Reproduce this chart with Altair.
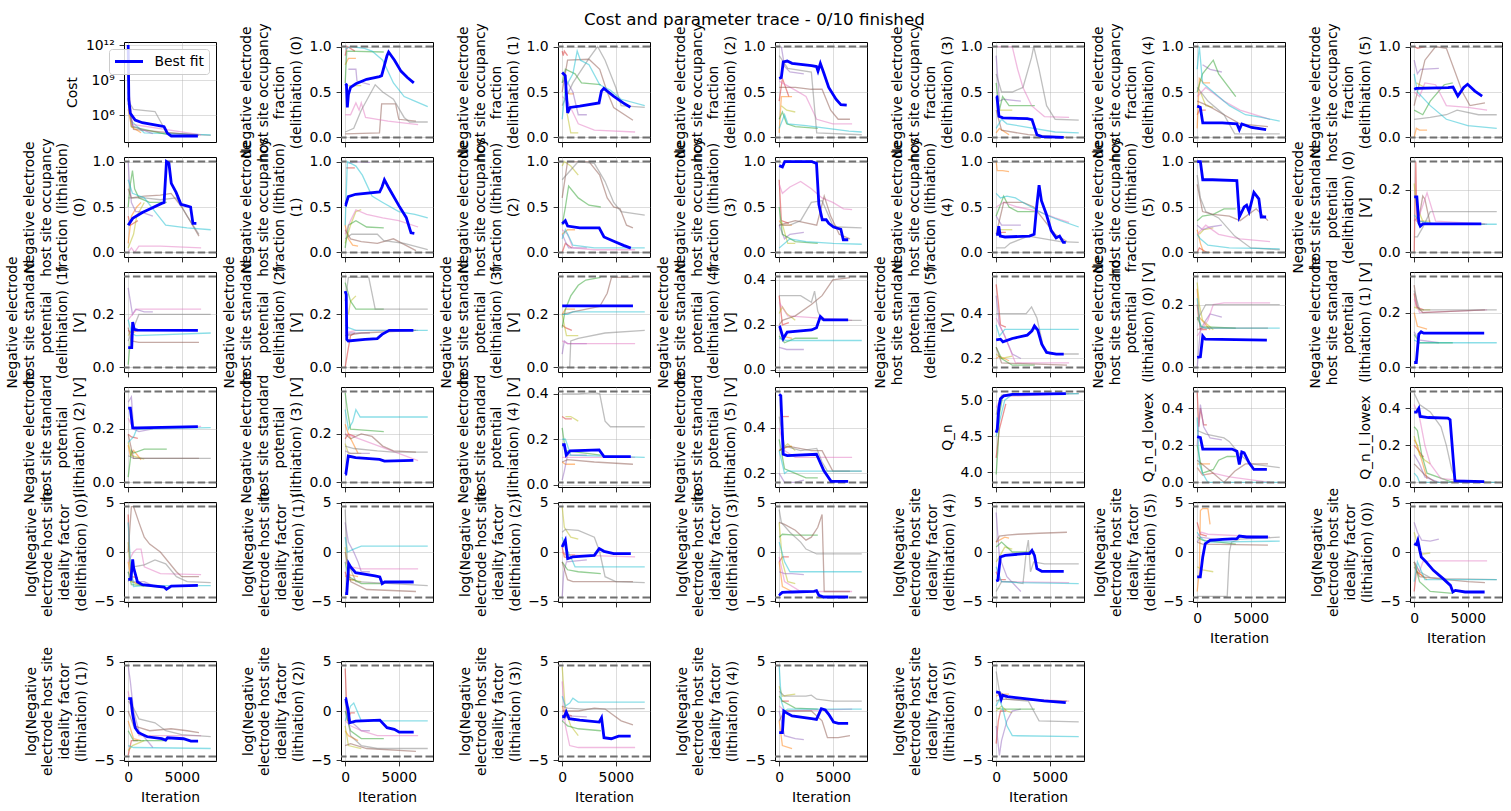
import altair as alt
import pandas as pd

TITLE = "Cost and parameter trace - 0/10 finished"
X_DOMAIN = [-390, 8190]
X_TICKS = [0, 5000]
TRACE_COLORS = {"blue": "#1f77b4", "orange": "#ff7f0e", "green": "#2ca02c", "red": "#d62728",
                "purple": "#9467bd", "brown": "#8c564b", "pink": "#e377c2", "gray": "#7f7f7f",
                "olive": "#bcbd22", "cyan": "#17becf"}

# ---------------- row 1 ----------------
cost_best = [[0, 1e12], [60, 2e7], [200, 1.4e6], [650, 3.7e5], [1320, 2.2e5], [3120, 1.15e5], [3345, 1e5], [3660, 2.7e4], [4020, 1.6e4], [6500, 1.6e4]]
cost_traces = {
    "gray": [[0, 3e9], [150, 1e7], [500, 3e6], [2500, 2e6], [3600, 3e4], [7700, 1.8e4]],
    "cyan": [[0, 1e8], [300, 3e5], [1500, 3e4], [7700, 2e4]],
    "green": [[0, 3e7], [300, 1e5], [3600, 2.2e4]],
    "pink": [[0, 3e8], [400, 1.6e5], [6800, 2e4]],
    "brown": [[0, 1e7], [500, 6e4], [6600, 1.8e4]],
    "orange": [[0, 3e6], [300, 1e5], [1200, 3e4]],
    "purple": [[0, 1e7], [400, 1.2e5], [2300, 2.5e4]],
}
dlo0_best = [[0, .59], [120, .58], [200, .33], [300, .47], [500, .55], [1000, .59], [2000, .64], [3200, .67], [3400, .68], [3900, .9], [4050, .94], [4600, .85], [5200, .73], [5800, .66], [6400, .6]]
dlo0_traces = {
    "red": [[0, .9], [200, 1.0], [900, .95]],
    "orange": [[0, .8], [300, .87], [1000, .87]],
    "green": [[0, .6], [150, .95], [3600, .94]],
    "purple": [[300, .75], [1000, .75], [1100, .62], [2300, .58]],
    "olive": [[300, .57], [1500, .57]],
    "brown": [[0, .04], [3200, .05], [3400, .37], [4700, .37], [5000, .2], [6600, .18]],
    "pink": [[0, .25], [500, .25], [1000, .38], [1300, .3], [1500, .38], [1900, .22], [3000, .2], [4000, .18], [6800, .14]],
    "gray": [[0, .06], [800, .1], [1500, .3], [2800, .58], [3500, .5], [4500, .42], [5500, .22], [6000, .17], [7700, .17]],
    "cyan": [[0, .97], [500, 1.0], [1800, .98], [2500, .95], [3500, .85], [4500, .6], [5500, .45], [6500, .4], [7700, .34]],
}
dlo1_best = [[0, .715], [285, .68], [510, .27], [735, .33], [1635, .345], [3435, .38], [3660, .51], [3885, .54], [4785, .455], [5685, .38], [6360, .333]]
dlo1_traces = {
    "red": [[0, .95], [100, .9], [200, .95], [500, .9]],
    "orange": [[200, .5], [700, .48], [1100, .48]],
    "olive": [[400, .3], [800, .05], [1500, .05]],
    "purple": [[0, .6], [300, .65], [1000, .5], [1500, .25], [2300, .25]],
    "green": [[0, .6], [300, .75], [1200, .7], [1800, .6], [3600, .58]],
    "pink": [[0, .45], [500, .4], [1500, .15], [3000, .08], [6800, .06]],
    "brown": [[0, .5], [500, .85], [2500, .86], [3500, .75], [4200, .5], [4800, .33], [6600, .19]],
    "gray": [[0, .35], [1000, .6], [2500, .87], [3300, 1.0], [4000, .85], [5000, .55], [5500, .35], [7700, .33]],
    "cyan": [[0, .2], [300, .55], [1000, .7], [1400, .95], [1700, .85], [2500, .8], [3500, .58], [4500, .52], [5500, .42], [7700, .35]],
}
dlo2_best = [[0, .65], [200, .66], [380, .83], [750, .84], [1200, .815], [3020, .79], [3480, .78], [3620, .73], [3840, .815], [4160, .71], [4620, .55], [5300, .42], [5750, .36], [6300, .355]]
dlo2_traces = {
    "red": [[0, .4], [300, .65], [900, .45]],
    "orange": [[0, .05], [200, .45], [500, .45], [1200, .45]],
    "olive": [[200, .35], [700, .3], [1500, .28]],
    "purple": [[200, 1.0], [500, .78], [1000, .72], [2300, .7]],
    "green": [[0, .2], [300, .28], [700, .15], [1500, .12], [3600, .1]],
    "pink": [[0, .62], [1500, .52], [2500, .45], [3500, .2], [5000, .15], [6800, .15]],
    "brown": [[0, .55], [1500, .55], [3000, .53], [4000, .53], [4800, .3], [5500, .2], [6600, .2]],
    "gray": [[0, .9], [800, .76], [3000, .72], [3500, .05], [7700, .03]],
    "cyan": [[0, .1], [500, .25], [800, .15], [2500, .13], [4500, .1], [6500, .07], [7700, .06]],
}
dlo3_best = [[0, .455], [70, .45], [260, .233], [620, .215], [2900, .207], [3340, .196], [3800, .03], [4260, .01], [6300, .0]]
dlo3_traces = {
    "orange": [[0, .05], [300, .1], [1200, .03]],
    "olive": [[300, .3], [1500, .3]],
    "purple": [[0, .9], [300, .4], [700, .42], [2300, .4]],
    "green": [[0, .6], [300, .3], [600, .45], [1200, .35], [3600, .35]],
    "brown": [[0, .3], [500, .08], [3000, .03], [6600, .0]],
    "pink": [[100, 1.0], [1500, 1.0], [2000, .75], [2500, .55], [3300, .35], [4500, .23], [6800, .22]],
    "gray": [[0, .7], [500, .5], [1500, .5], [2500, .55], [3300, .88], [3500, 1.0], [4000, .75], [4700, .35], [5500, .2], [7700, .19]],
    "cyan": [[0, .1], [500, .2], [1000, .15], [3500, .1], [5500, .06], [7700, .05]],
}
dlo4_best = [[0, .345], [290, .333], [520, .16], [2340, .16], [3700, .15], [3930, .085], [4160, .148], [5070, .11], [6430, .085]]
dlo4_traces = {
    "red": [[0, .25], [200, .3], [800, .3]],
    "orange": [[0, .1], [200, .65], [600, .6], [1200, .6]],
    "olive": [[300, .5], [800, .35], [1500, .33]],
    "purple": [[500, .8], [1200, .75], [2300, .72]],
    "green": [[0, .5], [500, .7], [1500, .85], [2000, .7], [3600, .45]],
    "brown": [[0, .4], [1000, .35], [2500, .25], [4000, .15], [6600, .12]],
    "pink": [[0, .45], [800, .55], [2500, .4], [4000, .3], [6800, .2]],
    "gray": [[0, .55], [1000, .4], [2500, .25], [3500, .04], [7700, .04]],
    "cyan": [[0, .75], [200, 1.0], [500, .6], [1500, .5], [3000, .35], [4500, .25], [6000, .22], [7700, .18]],
}
dlo5_best = [[0, .53], [200, .54], [3160, .548], [3620, .555], [4070, .455], [4620, .55], [4980, .585], [5660, .51], [6340, .455]]
dlo5_traces = {
    "red": [[0, 1.0], [300, .98], [1000, 1.0]],
    "orange": [[0, .0], [200, .1], [500, .08], [1200, .08]],
    "olive": [[200, .6], [1000, .55], [1500, .55]],
    "purple": [[0, .85], [300, .7], [600, .75], [2300, .76]],
    "green": [[0, .3], [800, .25], [1500, .4], [2800, .58], [3600, .6]],
    "brown": [[0, .35], [1000, .85], [2000, 1.0], [3000, .98], [4500, .5], [5200, .35], [6600, .38]],
    "pink": [[0, .5], [500, .45], [1000, .6], [2000, .58], [3000, .35], [5000, .33], [6800, .3]],
    "gray": [[0, .2], [1500, .22], [3000, .25], [4000, .3], [6000, .25], [7700, .25]],
    "cyan": [[0, .7], [300, .5], [1500, .35], [3000, .2], [5000, .13], [7700, .1]],
}

# ---------------- row 2 ----------------
llo0_best = [[0, .3], [420, .375], [1320, .44], [2220, .49], [3120, .54], [3350, .55], [3570, 1.0], [3800, .98], [4020, .76], [4470, .66], [4920, .53], [5370, .515], [5820, .5], [6040, .32], [6360, .32]]
llo0_traces = {
    "red": [[0, .4], [200, .3], [900, .35]],
    "orange": [[0, .1], [300, .4], [800, .5], [1200, .55]],
    "olive": [[0, .05], [500, .2], [800, .4], [1500, .55]],
    "purple": [[0, 1.0], [100, .8], [300, .55], [700, .45], [1100, .45], [2300, .4]],
    "green": [[0, .5], [200, .75], [400, .9], [600, .7], [1000, .6], [2000, .55], [3600, .55]],
    "pink": [[0, .0], [300, .05], [600, .0], [1000, .07], [3000, .07], [6800, .05]],
    "brown": [[0, .7], [300, .6], [1500, .62], [3000, .63], [4000, .65], [5000, .5], [6000, .3], [6600, .18]],
    "gray": [[0, .6], [1500, .6], [3000, .58], [4500, .6], [5500, .4], [6600, .2]],
    "cyan": [[0, .8], [400, .65], [1500, .6], [2500, .45], [3500, .3], [5500, .27], [7700, .25]],
}
llo1_best = [[0, .53], [60, .525], [290, .615], [970, .64], [3210, .665], [3435, .72], [3660, .8], [4110, .7], [5010, .515], [5690, .385], [6140, .216], [6450, .21]]
llo1_traces = {
    "red": [[100, .93], [300, .93], [900, .93]],
    "orange": [[0, .3], [300, .15], [700, .08], [1200, .07]],
    "olive": [[0, .1], [500, .3], [1000, .45], [1500, .47]],
    "purple": [[300, .98], [1000, 1.0], [2300, .99]],
    "green": [[0, .05], [300, .3], [1000, .35], [2000, .28], [3600, .27]],
    "pink": [[0, .2], [500, .35], [1000, .47], [2000, .42], [3500, .38], [5000, .35], [6800, .28]],
    "brown": [[0, .25], [500, .15], [1500, .12], [3000, .1], [4500, .15], [6600, .02]],
    "gray": [[0, .15], [600, .2], [3000, .2], [3600, .13], [5500, .1], [7700, .03]],
    "cyan": [[0, .3], [200, 1.0], [1000, .95], [1600, .85], [2500, .62], [3500, .55], [5000, .45], [6500, .42], [7700, .38]],
}
llo2_best = [[0, .317], [290, .35], [510, .29], [1640, .27], [3450, .27], [3900, .17], [4810, .123], [5720, .078], [6400, .048]]
llo2_traces = {
    "red": [[0, .0], [300, .1], [900, .05]],
    "orange": [[0, .2], [500, .25], [1200, .25]],
    "olive": [[0, .95], [200, 1.0], [800, .95], [1500, .85]],
    "purple": [[0, .2], [300, .12], [600, .05], [2300, .05]],
    "green": [[0, .3], [300, .5], [600, .73], [1500, .6], [2500, .52], [3600, .5]],
    "pink": [[0, .25], [500, .2], [1000, .05], [3000, .03], [6800, .03]],
    "brown": [[0, .6], [500, 1.0], [2500, 1.0], [3500, .85], [4200, .6], [4800, .5], [5400, .48], [6000, .3], [6600, .27]],
    "gray": [[0, .8], [1500, 1.0], [3000, .98], [4000, .78], [4800, .55], [5500, .45], [7700, .41]],
    "cyan": [[0, .15], [300, .25], [600, .18], [1000, .08], [3000, .05], [7700, .05]],
}
llo3_best = [[0, .955], [300, .94], [520, 1.0], [3020, 1.0], [3480, .98], [3700, .53], [4020, .36], [4380, .36], [4620, .32], [5070, .28], [5750, .255], [5980, .14], [6440, .14]]
llo3_traces = {
    "red": [[0, .8], [200, .35], [900, .32]],
    "orange": [[0, .35], [300, .3], [1200, .3]],
    "olive": [[200, .35], [800, .1], [1500, .1]],
    "purple": [[0, .3], [500, .15], [1000, .2], [2300, .22]],
    "green": [[0, .5], [300, .2], [1500, .12], [3600, .1]],
    "pink": [[0, .75], [300, .65], [1000, .72], [2000, .78], [3000, .7], [4000, .6], [5000, .55], [6000, .48], [6800, .47]],
    "brown": [[0, .3], [1500, .35], [3500, .3], [4200, .62], [4800, .4], [5600, .2], [6600, .15]],
    "gray": [[0, .3], [1000, .3], [2000, .35], [3000, .55], [4000, .57], [5000, .3], [5500, .28], [7700, .27]],
    "cyan": [[0, .05], [1000, .15], [2500, .12], [5000, .1], [7700, .09]],
}
llo4_best = [[0, .2], [150, .2], [240, .29], [380, .18], [830, .17], [3100, .18], [3540, .2], [3770, .495], [4000, .74], [4220, .57], [4680, .42], [5130, .24], [5590, .16], [5910, .18], [6260, .11], [6490, .11]]
llo4_traces = {
    "red": [[0, .2], [300, .22], [900, .22]],
    "orange": [[0, 1.0], [100, .9], [600, .9], [1200, .89]],
    "olive": [[200, .25], [800, .25], [1500, .25]],
    "purple": [[0, .4], [500, .3], [2300, .3]],
    "green": [[0, .4], [700, .62], [1200, .5], [2000, .45], [3600, .45]],
    "pink": [[0, .5], [700, .55], [2000, .5], [4000, .45], [5500, .38], [6800, .33]],
    "brown": [[0, .2], [700, .55], [2500, .55], [3500, .5], [4500, .35], [5500, .2], [6600, .12]],
    "gray": [[0, .05], [800, .05], [1300, .1], [3000, .18], [4500, .15], [6000, .12], [7700, .11]],
    "cyan": [[0, .65], [400, .6], [1000, .62], [1800, .6], [2500, .55], [4500, .42], [6000, .35], [7700, .28]],
}
llo5_best = [[0, 1.0], [300, 1.0], [520, .8], [1430, .8], [3700, .79], [3930, .39], [4380, .5], [4610, .52], [4840, .45], [5290, .66], [5750, .59], [5970, .39], [6430, .39]]
llo5_traces = {
    "red": [[0, .0], [200, .05], [900, .0]],
    "orange": [[0, .25], [300, .1], [600, .0], [1200, .0]],
    "olive": [[200, .2], [600, .25], [1500, .27]],
    "purple": [[0, .3], [500, .25], [1200, .28], [2300, .3]],
    "green": [[0, .35], [500, .4], [1500, .42], [2500, .48], [3600, .48]],
    "pink": [[0, .2], [800, .3], [2000, .2], [4000, .15], [6800, .12]],
    "brown": [[0, .75], [500, .45], [1500, .42], [3000, .4], [4000, .35], [5500, .48], [6600, .35]],
    "gray": [[0, .85], [300, .6], [800, .45], [2000, .38], [3500, .18], [5000, .05], [7700, .03]],
    "cyan": [[0, .2], [300, .15], [1000, .08], [3000, .05], [7700, .04]],
}
dsp0_best = [[0, .177], [250, .177], [430, .095], [570, .084], [800, .091], [6260, .091]]
dsp0_traces = {
    "red": [[0, .0], [150, .29], [250, .1], [400, .1], [900, .1]],
    "olive": [[0, .22], [200, .15], [800, .1], [1500, .1]],
    "brown": [[0, .1], [500, .12], [800, .18], [1000, .17], [1500, .09], [6600, .09]],
    "pink": [[0, .1], [500, .12], [1200, .19], [2000, .1], [6800, .09]],
    "gray": [[0, .05], [300, .05], [800, .08], [1500, .13], [7700, .13]],
    "cyan": [[0, .12], [500, .1], [2000, .09], [7700, .09]],
}

# ---------------- row 3 ----------------
dsp1_best = [[0, .075], [330, .075], [420, .171], [560, .144], [870, .141], [6500, .14]]
dsp1_traces = {
    "red": [[0, .14], [300, .13], [900, .14]],
    "olive": [[0, .12], [300, .14], [1500, .14]],
    "purple": [[0, .3], [200, .25], [400, .2], [700, .22], [1500, .21], [2300, .21]],
    "green": [[0, .01], [200, .1], [500, .14], [3600, .14]],
    "pink": [[0, .18], [400, .2], [800, .22], [6800, .22]],
    "brown": [[0, .15], [300, .1], [1000, .095], [6600, .095]],
    "gray": [[0, .1], [1000, .2], [7700, .2]],
    "cyan": [[0, .18], [300, .13], [700, .12], [7700, .13]],
}
dsp2_best = [[0, .288], [100, .275], [150, .106], [290, .1], [1860, .106], [2990, .109], [3440, .125], [4110, .14], [6360, .14]]
dsp2_traces = {
    "red": [[0, .0], [200, .05], [500, .12], [900, .13]],
    "olive": [[300, .2], [500, .25], [1000, .27]],
    "purple": [[0, .12], [500, .13], [2300, .13]],
    "green": [[0, .32], [500, .25], [1000, .22], [2000, .22], [3600, .22]],
    "pink": [[0, .13], [1000, .14], [6800, .14]],
    "brown": [[0, .12], [1500, .13], [6600, .14]],
    "gray": [[0, .25], [300, .34], [1500, .34], [2200, .34], [2800, .22], [7700, .22]],
    "cyan": [[0, .16], [300, .15], [1000, .14], [7700, .14]],
}
dsp3_best = [[0, .232], [6600, .232]]
dsp3_traces = {
    "red": [[0, .16], [300, .15], [900, .14]],
    "orange": [[0, .2], [300, .22], [1200, .22]],
    "olive": [[0, .2], [400, .12], [1500, .12]],
    "purple": [[0, .05], [200, .1], [500, .09], [2300, .09]],
    "green": [[0, .15], [300, .22], [800, .27], [1500, .31], [2200, .33], [3600, .34]],
    "pink": [[0, .1], [500, .09], [6800, .09]],
    "brown": [[0, .2], [1000, .21], [3500, .23], [4200, .28], [4600, .34], [6600, .34]],
    "gray": [[0, .0], [700, .0], [800, .1], [1500, .11], [4000, .13], [7700, .14]],
    "cyan": [[0, .2], [500, .2], [1000, .21], [7700, .21]],
}
dsp4_best = [[0, .195], [60, .192], [380, .139], [750, .168], [3020, .177], [3480, .187], [3840, .237], [4160, .222], [6430, .222]]
dsp4_traces = {
    "red": [[0, .33], [300, .2], [900, .21]],
    "orange": [[0, .18], [300, .15], [1200, .14]],
    "olive": [[0, .25], [300, .28], [700, .25], [1500, .22]],
    "purple": [[0, .1], [700, .09], [2300, .09]],
    "green": [[0, .15], [500, .12], [1500, .14], [3600, .14]],
    "pink": [[0, .3], [800, .24], [6800, .22]],
    "brown": [[0, .2], [300, .22], [1500, .24], [3000, .29], [4000, .33], [5000, .4], [6600, .41]],
    "gray": [[0, .33], [2000, .33], [3000, .3], [3300, .35], [3600, .26], [4000, .22], [7700, .22]],
    "cyan": [[0, .14], [700, .13], [7700, .13]],
}
dsp5_best = [[0, .283], [400, .286], [630, .274], [1500, .289], [2900, .304], [3340, .323], [3570, .345], [3880, .326], [4250, .264], [4700, .227], [5600, .219], [6300, .219]]
dsp5_traces = {
    "red": [[0, .53], [200, .45], [400, .35], [900, .34]],
    "orange": [[0, .2], [300, .21], [1200, .19]],
    "olive": [[0, .22], [500, .2], [1500, .21]],
    "purple": [[0, .48], [300, .35], [800, .3], [1500, .22], [2300, .2]],
    "green": [[0, .25], [500, .2], [1500, .17], [3600, .17]],
    "pink": [[0, .38], [800, .3], [1800, .18], [3000, .18], [6800, .18]],
    "brown": [[0, .25], [500, .18], [6600, .17]],
    "gray": [[0, .4], [1500, .4], [2800, .4], [3300, .43], [3800, .38], [4400, .25], [5000, .22], [7700, .22]],
    "cyan": [[0, .35], [300, .3], [800, .33], [7700, .33]],
}
lsp0_best = [[0, .032], [300, .034], [520, .1], [750, .09], [6500, .087]]
lsp0_traces = {
    "red": [[0, .2], [300, .12], [900, .12]],
    "orange": [[0, .25], [200, .16], [1200, .12]],
    "olive": [[0, .27], [200, .2], [500, .15], [1500, .12]],
    "purple": [[0, .0], [300, .12], [800, .15], [1200, .17], [2300, .16]],
    "green": [[0, .16], [400, .13], [3600, .125]],
    "pink": [[0, .1], [1000, .15], [1500, .2], [2500, .205], [6800, .205]],
    "brown": [[0, .12], [500, .125], [6600, .125]],
    "gray": [[0, .15], [800, .2], [7700, .2]],
    "cyan": [[0, .22], [300, .13], [800, .125], [7700, .125]],
}
lsp1_best = [[0, .018], [200, .018], [430, .121], [650, .13], [880, .125], [6530, .125]]
lsp1_traces = {
    "red": [[0, .27], [200, .22], [900, .21]],
    "orange": [[0, .2], [300, .15], [1200, .14]],
    "olive": [[0, .22], [600, .21], [1500, .21]],
    "purple": [[0, .13], [400, .1], [2300, .09]],
    "green": [[0, .12], [500, .09], [3600, .09]],
    "pink": [[0, .25], [500, .2], [6800, .21]],
    "brown": [[0, .3], [300, .22], [800, .2], [6600, .21]],
    "gray": [[0, .28], [500, .21], [7700, .21]],
    "cyan": [[0, .1], [500, .09], [7700, .09]],
}

# ---------------- row 4 ----------------
lsp2_best = [[0, .278], [200, .278], [420, .204], [870, .204], [3120, .206], [6500, .209]]
lsp2_traces = {
    "red": [[0, .18], [300, .17], [900, .165]],
    "orange": [[0, .14], [200, .1], [500, .12], [1200, .085]],
    "olive": [[0, .15], [300, .1], [1500, .087]],
    "purple": [[0, .3], [300, .32], [500, .2], [1000, .19], [2300, .2]],
    "green": [[0, .02], [300, .12], [500, .11], [1500, .125], [3600, .125]],
    "pink": [[0, .24], [500, .2], [6800, .21]],
    "brown": [[0, .18], [500, .09], [6600, .09]],
    "gray": [[0, .1], [500, .09], [7700, .09]],
    "cyan": [[0, .15], [500, .17], [800, .2], [7700, .205]],
}
lsp3_best = [[0, .034], [60, .034], [290, .109], [970, .102], [3210, .095], [3660, .088], [6360, .091]]
lsp3_traces = {
    "red": [[0, .18], [300, .2], [900, .19]],
    "orange": [[0, .24], [300, .2], [1200, .12]],
    "olive": [[0, .16], [300, .12], [1500, .12]],
    "purple": [[0, .13], [500, .12], [2300, .12]],
    "green": [[0, .37], [200, .3], [500, .22], [3600, .21]],
    "pink": [[0, .2], [700, .19], [6800, .09]],
    "brown": [[0, .2], [500, .18], [1500, .2], [2500, .19], [3500, .15], [4500, .13], [6600, .125]],
    "gray": [[0, .15], [800, .14], [3000, .13], [4500, .125], [7700, .125]],
    "cyan": [[0, .3], [300, .22], [700, .25], [1000, .3], [1400, .27], [7700, .27]],
}
lsp4_best = [[0, .176], [200, .176], [380, .131], [740, .149], [3450, .153], [3900, .124], [6400, .124]]
lsp4_traces = {
    "red": [[0, .3], [300, .29], [900, .29]],
    "orange": [[0, .1], [300, .09], [1200, .09]],
    "olive": [[300, .3], [800, .3], [1500, .28]],
    "purple": [[0, .02], [200, .06], [500, .13], [2300, .13]],
    "green": [[0, .25], [300, .15], [3600, .13]],
    "pink": [[0, .12], [500, .12], [6800, .12]],
    "brown": [[0, .1], [500, .11], [3000, .1], [6600, .09]],
    "gray": [[0, .4], [1500, .4], [3000, .405], [3500, .4], [4000, .28], [4500, .255], [7700, .255]],
    "cyan": [[0, .2], [300, .2], [800, .13], [7700, .12]],
}
lsp5_best = [[0, .548], [150, .542], [380, .284], [750, .278], [3480, .284], [4160, .212], [4840, .165], [6430, .165]]
lsp5_traces = {
    "red": [[300, .45], [900, .45]],
    "orange": [[0, .3], [300, .31], [1200, .32]],
    "olive": [[0, .3], [800, .33], [1500, .3]],
    "purple": [[0, .2], [500, .16], [1500, .16], [2300, .17]],
    "green": [[0, .35], [500, .22], [1500, .2], [2500, .18], [3600, .18]],
    "pink": [[0, .4], [500, .3], [1500, .27], [3000, .27], [6800, .27]],
    "brown": [[0, .3], [800, .32], [3000, .3], [4000, .3], [5000, .21], [6600, .21]],
    "gray": [[0, .45], [500, .32], [2000, .3], [3500, .31], [4000, .25], [4500, .21], [7700, .21]],
    "cyan": [[0, .3], [500, .2], [800, .21], [7700, .21]],
}
qn_best = [[0, 4.55], [100, 4.6], [250, 4.9], [400, 5.02], [700, 5.06], [1500, 5.08], [6500, 5.09]]
qn_traces = {
    "red": [[0, 4.2], [300, 4.6], [900, 4.95]],
    "green": [[0, 3.97], [150, 4.3], [300, 4.8], [600, 5.05], [1500, 5.08], [3600, 5.09]],
    "pink": [[0, 4.9], [500, 5.05], [6800, 5.09]],
    "gray": [[0, 4.8], [500, 5.07], [7700, 5.09]],
    "cyan": [[0, 4.5], [300, 4.7], [800, 5.0], [1500, 5.08], [7700, 5.09]],
}
qnd_best = [[0, .247], [300, .242], [520, .18], [3250, .18], [3700, .168], [3930, .097], [4160, .164], [4380, .159], [4840, .106], [5290, .07], [6500, .07]]
qnd_traces = {
    "red": [[0, .49], [150, .3], [300, .4], [600, .31], [900, .31]],
    "orange": [[0, .1], [300, .1], [1200, .1]],
    "olive": [[0, .08], [500, .04], [1500, .05]],
    "purple": [[0, .2], [300, .42], [600, .3], [1200, .24], [2300, .23]],
    "green": [[0, .2], [500, .05], [1500, .07], [2000, .12], [2800, .14], [3600, .14]],
    "pink": [[0, .08], [500, .04], [1500, .05], [3000, .03], [6800, .0]],
    "brown": [[0, .12], [1500, .05], [2500, .0], [3500, .06], [4500, .1], [6600, .1]],
    "gray": [[0, .28], [800, .26], [2500, .24], [3000, .22], [4000, .15], [5000, .1], [7700, .08]],
    "cyan": [[0, .35], [200, .1], [500, .05], [1000, .0], [7700, .0]],
}
qnl_best = [[0, .379], [200, .379], [430, .4], [560, .356], [1330, .35], [3140, .347], [3350, .338], [3800, .009], [6530, .005]]
qnl_traces = {
    "red": [[0, .2], [300, .18], [800, .14], [900, .14]],
    "orange": [[0, .23], [300, .2], [800, .1], [1200, .02]],
    "olive": [[0, .25], [500, .15], [1000, .12], [1500, .1]],
    "purple": [[0, .15], [500, .1], [1000, .03], [2300, .0]],
    "green": [[0, .3], [300, .28], [700, .15], [1200, .05], [3600, .0]],
    "pink": [[0, .42], [500, .35], [1000, .2], [1500, .1], [2500, .02], [6800, .0]],
    "brown": [[0, .1], [1000, .04], [2000, .0], [6600, .0]],
    "gray": [[0, .48], [500, .42], [1500, .38], [2500, .3], [3000, .2], [3500, .07], [4000, .0], [7700, .0]],
    "cyan": [[0, .05], [300, .03], [500, .0], [7700, .0]],
}

# ---------------- row 5 ----------------
dif0_best = [[0, -2.77], [250, -2.77], [420, -.74], [510, -1.62], [870, -3.04], [1320, -3.31], [3340, -3.55], [3570, -3.78], [4020, -3.45], [6500, -3.38]]
dif0_traces = {
    "red": [[0, 3.8], [150, -1], [300, -2.5], [900, -2.6]],
    "orange": [[0, -1], [300, -3], [1200, -3.3]],
    "olive": [[0, 1], [300, -3], [1500, -3.5]],
    "purple": [[0, -2], [500, -3], [1500, -3], [2300, -3.4]],
    "green": [[0, -2], [300, -3.3], [3600, -3.6]],
    "pink": [[0, -1], [500, 0], [800, .3], [1200, .3], [1500, -1.5], [3000, -2.2], [6800, -2.3]],
    "brown": [[0, 0], [300, 4.6], [500, 4.6], [1000, 3], [1500, 1.5], [2000, .8], [3000, 0], [4500, -2], [5000, -2.5], [6600, -2.5]],
    "gray": [[0, -3], [500, -1.5], [1500, -1.3], [2500, -.8], [3500, -1.2], [4500, -2.5], [5500, -3], [7700, -3.1]],
    "cyan": [[0, 3], [200, -1], [500, -3.5], [1500, -3.4], [7700, -3.4]],
}
dif1_best = [[0, -4.22], [150, -4.22], [330, -1.18], [510, -1.52], [970, -2.1], [2780, -2.43], [3230, -2.53], [3450, -3.2], [3680, -3.04], [6390, -3.04]]
dif1_traces = {
    "red": [[0, -2], [200, -2.8], [900, -2.8]],
    "orange": [[0, -2.5], [300, -2.3], [1200, -2.5]],
    "olive": [[0, .5], [400, -2.8], [1500, -3]],
    "purple": [[0, 3], [300, 1], [800, 0], [1200, -1], [1500, -2], [2300, -2]],
    "green": [[0, -1], [300, -2.5], [1500, -3.2], [3600, -3.2]],
    "pink": [[0, -1], [500, -1.5], [1500, -1.7], [6800, -1.7]],
    "brown": [[0, 0], [500, -3], [2000, -3.8], [6600, -4]],
    "gray": [[0, 4.3], [200, -1], [1000, -3], [7700, -3.4]],
    "cyan": [[0, 1.5], [200, 0], [800, .3], [1500, .6], [7700, .6]],
}
dif2_best = [[0, .5], [60, .68], [290, 1.18], [510, -.68], [970, -.5], [3000, -.34], [3450, .34], [3900, .07], [4810, -.17], [6400, -.17]]
dif2_traces = {
    "red": [[0, .5], [200, -.5], [900, -.7]],
    "orange": [[0, 0], [300, -.3], [1200, -.3]],
    "olive": [[0, 4.6], [200, 2.5], [800, 1.5], [1500, 1.3]],
    "purple": [[0, -4.6], [150, -2], [400, -1], [2300, -.8]],
    "green": [[0, -1], [500, -1.8], [1500, -2], [3600, -2.2]],
    "pink": [[0, 0], [500, -.3], [6800, -.5]],
    "brown": [[0, -1], [500, -2.8], [1000, -3], [6600, -3]],
    "gray": [[0, 2], [300, 2.3], [1500, 2.2], [3000, 1.5], [3500, 0], [4000, -2.5], [5000, -3], [7700, -3.1]],
    "cyan": [[0, 1.5], [300, .5], [800, -.5], [1200, -1.5], [7700, -1.5]],
}
dif3_best = [[0, -4.22], [60, -4.3], [290, -4.1], [1200, -4.05], [3250, -3.99], [3480, -3.92], [3700, -4.39], [4160, -4.56], [6430, -4.56]]
dif3_traces = {
    "red": [[0, -1], [300, -.5], [900, -.5]],
    "orange": [[0, -1], [300, -3.5], [1200, -4]],
    "olive": [[0, 3], [300, -1], [800, -3], [1500, -3.2]],
    "purple": [[0, -2], [500, -2.2], [1200, -2.2], [2300, -2.3]],
    "green": [[0, 1.5], [300, 1.8], [1500, 1.7], [3600, 1.7]],
    "pink": [[0, -.5], [500, -3], [2000, -4], [6800, -4]],
    "brown": [[0, 3], [500, 2.8], [1500, 2.2], [2500, 1.2], [3000, 1.5], [3600, 2.5], [4000, 3.8], [4100, 0], [4200, -4], [6600, -4]],
    "gray": [[0, 4.3], [200, 3], [1000, 2], [2000, 1], [2500, .3], [3500, -.2], [4500, -.2], [7700, -.2]],
    "cyan": [[0, 1], [500, -1], [1000, -2], [7700, -2]],
}
dif4_best = [[0, -2.94], [160, -2.87], [390, -.5], [840, -.34], [2660, -.17], [3110, -.17], [3340, .17], [3570, -.34], [3800, -1.69], [4250, -1.96], [6300, -1.96]]
dif4_traces = {
    "red": [[0, -2], [300, -2.8], [900, -2.8]],
    "orange": [[0, 1], [300, 1.2], [800, 1.5], [1200, 1.4]],
    "olive": [[0, -1], [300, -.5], [800, .5], [1500, .3]],
    "purple": [[0, 4], [300, -.5], [1000, -2.5], [2300, -4]],
    "green": [[0, .5], [500, 1], [1000, .5], [1500, 0], [3600, 0]],
    "pink": [[0, -2], [500, -3], [6800, -3.1]],
    "brown": [[0, 1], [300, 1.6], [1000, 1.7], [2000, 1.8], [4000, 1.9], [6600, 2]],
    "gray": [[0, -4], [500, -3], [1500, -3], [2500, -3.2], [2800, 0], [3000, 1.2], [3200, -2], [3500, -1], [4500, -1.2], [7700, -1.2]],
    "cyan": [[0, -1.5], [500, -3], [2000, -3.1], [7700, -3.2]],
}
dif5_best = [[0, -2.53], [290, -2.53], [520, -.5], [750, .84], [1200, 1.18], [2340, 1.28], [3700, 1.35], [3930, 1.62], [4610, 1.52], [6600, 1.52]]
dif5_traces = {
    "red": [[0, 3], [300, 1.8], [900, 1.6]],
    "orange": [[0, -4], [200, -2], [300, 4.2], [500, 4.4], [1000, 4.4], [1200, 2.8]],
    "olive": [[0, -1.5], [500, -1.8], [1500, -2]],
    "purple": [[0, 1], [300, 1.5], [2300, 1.2]],
    "green": [[0, 1.5], [500, 1.2], [3600, .8]],
    "pink": [[0, 1.5], [400, 2], [1000, 1.8], [6800, 1.5]],
    "brown": [[0, 1], [500, .8], [6600, .7]],
    "gray": [[0, -4.5], [500, -4.5], [2800, -4.5], [3000, 0], [3200, 1], [4000, 1.3], [7700, 1.5]],
    "cyan": [[0, 2], [300, 1.5], [800, 1.0], [7700, 1.1]],
}
lif0_best = [[0, .84], [200, .74], [340, 1.18], [520, .17], [660, -.5], [1110, -1.0], [1790, -1.86], [2700, -2.7], [3380, -3.38], [3610, -4.05], [3840, -3.89], [4750, -4.05], [6570, -4.05]]
lif0_traces = {
    "red": [[0, -4], [200, -2], [900, -2.5]],
    "orange": [[0, -1], [300, -2], [1200, -2.8]],
    "olive": [[0, 2], [500, 0], [800, -.2], [1500, -.1]],
    "purple": [[0, 3], [300, 2], [700, 1.2], [1500, 1.1], [2300, 1.3]],
    "green": [[0, -1], [500, -3], [1500, -4], [3600, -4.2]],
    "pink": [[0, -1], [500, -2], [800, -1], [1500, -.9], [6800, -.9]],
    "brown": [[0, -1.5], [500, -2.5], [3000, -2.8], [5000, -3.0], [6600, -3.1]],
    "gray": [[0, -1], [500, -2], [1500, -2.6], [3000, -2.7], [7700, -2.8]],
    "cyan": [[0, -3], [300, -1], [1000, -2.8], [7700, -2.8]],
}

# ---------------- row 6 ----------------
lif1_best = [[0, 1.25], [250, 1.25], [420, -.34], [650, -1.69], [970, -2.2], [1780, -2.61], [3130, -2.81], [3490, -2.95], [3670, -2.71], [5160, -2.81], [5850, -3.05], [6520, -3.05]]
lif1_traces = {
    "red": [[0, -4.5], [300, -3], [900, -3]],
    "orange": [[0, -1], [500, -2.8], [1200, -3]],
    "olive": [[0, -4], [400, -3.5], [1500, -3]],
    "purple": [[0, 4.6], [200, 3], [500, 0], [1000, -2], [2300, -3.7]],
    "green": [[0, -2], [500, -3], [3600, -3]],
    "pink": [[0, 2], [300, 0], [1000, -2.5], [6800, -2.5]],
    "brown": [[0, 0], [500, -1.5], [2000, -2], [4000, -1.8], [5500, -2], [6600, -2.2]],
    "gray": [[0, 1], [500, .3], [1000, -.8], [2500, -1.2], [3500, -2], [5000, -2.4], [7700, -2.6]],
    "cyan": [[0, -3.5], [500, -3.7], [7700, -3.8]],
}
lif2_best = [[0, 1.25], [60, 1.25], [290, 0], [420, -1.19], [970, -1.02], [3230, -.92], [3900, -1.69], [4580, -1.86], [5040, -2.14], [6390, -2.14]]
lif2_traces = {
    "red": [[0, 4.3], [200, -1], [500, -.2], [900, -.2]],
    "orange": [[0, -2], [300, -2.5], [1200, -3]],
    "olive": [[0, -1.5], [300, -3.5], [1500, -3.8]],
    "purple": [[0, 0], [500, -1], [1500, -2], [2300, -2]],
    "green": [[0, 0], [500, -2], [1500, -2.8], [3600, -2.8]],
    "pink": [[0, -1], [500, -1.5], [1500, -2], [3000, -2.5], [6800, -2.5]],
    "brown": [[0, -3.5], [500, -3.3], [2000, -3.8], [6600, -4.1]],
    "gray": [[0, 1], [500, -2.5], [1500, -3.5], [3000, -3.8], [7700, -3.8]],
    "cyan": [[0, -1], [500, .5], [800, .8], [1500, -1], [7700, -1]],
}
lif3_best = [[0, -.58], [200, -.58], [380, -.1], [650, -.78], [1640, -.92], [3450, -1.12], [3670, -.68], [3900, -2.71], [4580, -2.81], [5260, -2.54], [6390, -2.54]]
lif3_traces = {
    "red": [[0, -.5], [300, -.3], [900, -.5]],
    "orange": [[0, .5], [300, -.5], [1200, -1]],
    "olive": [[0, 4.5], [300, 0], [800, -1.5], [1500, -2.5]],
    "purple": [[0, -1], [500, -.5], [2300, -.6]],
    "green": [[0, -1], [500, -1.5], [1500, -1.8], [3600, -2]],
    "pink": [[0, 3], [300, -1.5], [700, -3.5], [1500, -3.7], [6800, -3.7]],
    "brown": [[0, 0], [1500, 0], [3000, .3], [4000, .2], [5500, -1], [6600, -1.4]],
    "gray": [[0, .5], [500, .3], [2000, .2], [7700, .25]],
    "cyan": [[0, 1.5], [300, .5], [700, .8], [1000, 1.3], [1500, .9], [7700, .9]],
}
lif4_best = [[0, -2.2], [300, -2.2], [430, 0], [650, -.17], [1200, -.5], [3020, -.78], [3480, -.85], [3930, .24], [4300, .1], [4620, -.34], [5070, -1.12], [5520, -1.25], [6430, -1.25]]
lif4_traces = {
    "red": [[200, 1], [500, 1], [900, 1]],
    "orange": [[0, -1], [300, -3.5], [1200, -3.8]],
    "olive": [[0, 2.5], [300, 1.5], [800, 1.6], [1500, 1.7]],
    "purple": [[0, 0], [500, -2.5], [1500, -2.8], [2300, -2.9]],
    "green": [[0, 1.5], [300, 1], [1500, .3], [3600, .2]],
    "pink": [[0, .5], [500, 0], [6800, .2]],
    "brown": [[0, -1], [500, 0], [3000, 0], [4000, -1], [4500, -2.7], [5500, -2.7], [6600, -2.5]],
    "gray": [[0, 2], [500, 1.5], [2500, 1.5], [3000, 1.6], [3500, 1.2], [5000, 1.0], [7700, 1.0]],
    "cyan": [[0, 4.6], [200, 1], [500, 0], [800, .2], [7700, .2]],
}
lif5_best = [[0, 1.93], [290, 1.86], [470, 1.19], [610, 1.6], [1060, 1.46], [2650, 1.25], [4450, 1.02], [6490, .85]]
lif5_traces = {
    "red": [[0, -3.3], [200, -1], [400, 0], [900, 0]],
    "orange": [[0, 1.5], [300, 1.7], [1200, 1.7]],
    "olive": [[0, 0], [500, .5], [1000, 0], [1500, -.2]],
    "purple": [[0, -1.5], [300, -4.5], [500, -3], [1000, -1], [1500, 0], [2300, .2]],
    "green": [[0, .3], [500, .2], [3600, .2]],
    "pink": [[0, 2], [500, 1.5], [3000, 1.2], [6800, 1.0]],
    "brown": [[0, 1], [500, 1.2], [3000, 1.1], [6600, 1.0]],
    "gray": [[0, 4], [300, 2], [1000, 1.2], [3000, 1.0], [3500, 0], [4000, -1], [7700, -1.1]],
    "cyan": [[0, .5], [300, 1.2], [600, .3], [1000, -1.5], [1500, -2.5], [7700, -2.6]],
}

# ---------------- titles, bounds, ticks ----------------
def occ_d(k): return ["Negative electrode", "host site occupancy", "fraction", f"(delithiation) ({k})"]
def occ_l(k): return ["Negative electrode", "host site occupancy", "fraction (lithiation)", f"({k})"]
def sp_d(k): return ["Negative electrode", "host site standard", "potential", f"(delithiation) ({k})", "[V]"]
def sp_l(k): return ["Negative electrode", "host site standard", "potential", f"(lithiation) ({k}) [V]"]
def if_d(k): return ["log(Negative", "electrode host site", "ideality factor", f"(delithiation) ({k}))"]
def if_l(k): return ["log(Negative", "electrode host site", "ideality factor", f"(lithiation) ({k}))"]

OCC_B, OCC_T = [0.0, 1.0], [0.0, 0.5, 1.0]
LOG_B, LOG_T = [-4.605, 4.605], [-5, 0, 5]
LOW_T, LOW3_T, HIGH_T = [0.0, 0.2], [0.0, 0.2, 0.4], [0.2, 0.4]

# (title, best, traces, bounds, ticks, format)
PANELS = [
    ("Cost", cost_best, cost_traces, None, [1e6, 1e9, 1e12], "log"),
    (occ_d(0), dlo0_best, dlo0_traces, OCC_B, OCC_T, ".1f"),
    (occ_d(1), dlo1_best, dlo1_traces, OCC_B, OCC_T, ".1f"),
    (occ_d(2), dlo2_best, dlo2_traces, OCC_B, OCC_T, ".1f"),
    (occ_d(3), dlo3_best, dlo3_traces, OCC_B, OCC_T, ".1f"),
    (occ_d(4), dlo4_best, dlo4_traces, OCC_B, OCC_T, ".1f"),
    (occ_d(5), dlo5_best, dlo5_traces, OCC_B, OCC_T, ".1f"),
    (occ_l(0), llo0_best, llo0_traces, OCC_B, OCC_T, ".1f"),
    (occ_l(1), llo1_best, llo1_traces, OCC_B, OCC_T, ".1f"),
    (occ_l(2), llo2_best, llo2_traces, OCC_B, OCC_T, ".1f"),
    (occ_l(3), llo3_best, llo3_traces, OCC_B, OCC_T, ".1f"),
    (occ_l(4), llo4_best, llo4_traces, OCC_B, OCC_T, ".1f"),
    (occ_l(5), llo5_best, llo5_traces, OCC_B, OCC_T, ".1f"),
    (sp_d(0), dsp0_best, dsp0_traces, [0.0, 0.29], LOW_T, ".1f"),
    (sp_d(1), dsp1_best, dsp1_traces, [0.0, 0.343], LOW_T, ".1f"),
    (sp_d(2), dsp2_best, dsp2_traces, [0.0, 0.343], LOW_T, ".1f"),
    (sp_d(3), dsp3_best, dsp3_traces, [0.0, 0.343], LOW_T, ".1f"),
    (sp_d(4), dsp4_best, dsp4_traces, [0.01, 0.415], LOW3_T, ".1f"),
    (sp_d(5), dsp5_best, dsp5_traces, [0.16, 0.565], HIGH_T, ".1f"),
    (sp_l(0), lsp0_best, lsp0_traces, [0.0, 0.289], LOW_T, ".1f"),
    (sp_l(1), lsp1_best, lsp1_traces, [0.0, 0.331], LOW_T, ".1f"),
    (sp_l(2), lsp2_best, lsp2_traces, [0.0, 0.34], LOW_T, ".1f"),
    (sp_l(3), lsp3_best, lsp3_traces, [0.0, 0.375], LOW_T, ".1f"),
    (sp_l(4), lsp4_best, lsp4_traces, [0.01, 0.41], LOW3_T, ".1f"),
    (sp_l(5), lsp5_best, lsp5_traces, [0.16, 0.56], HIGH_T, ".1f"),
    ("Q_n", qn_best, qn_traces, [3.86, 5.12], [4.0, 4.5, 5.0], ".1f"),
    ("Q_n_d_lowex", qnd_best, qnd_traces, [0.0, 0.49], LOW3_T, ".1f"),
    ("Q_n_l_lowex", qnl_best, qnl_traces, [0.0, 0.49], LOW3_T, ".1f"),
    (if_d(0), dif0_best, dif0_traces, LOG_B, LOG_T, "d"),
    (if_d(1), dif1_best, dif1_traces, LOG_B, LOG_T, "d"),
    (if_d(2), dif2_best, dif2_traces, LOG_B, LOG_T, "d"),
    (if_d(3), dif3_best, dif3_traces, LOG_B, LOG_T, "d"),
    (if_d(4), dif4_best, dif4_traces, LOG_B, LOG_T, "d"),
    (if_d(5), dif5_best, dif5_traces, LOG_B, LOG_T, "d"),
    (if_l(0), lif0_best, lif0_traces, LOG_B, LOG_T, "d"),
    (if_l(1), lif1_best, lif1_traces, LOG_B, LOG_T, "d"),
    (if_l(2), lif2_best, lif2_traces, LOG_B, LOG_T, "d"),
    (if_l(3), lif3_best, lif3_traces, LOG_B, LOG_T, "d"),
    (if_l(4), lif4_best, lif4_traces, LOG_B, LOG_T, "d"),
    (if_l(5), lif5_best, lif5_traces, LOG_B, LOG_T, "d"),
]
COST_DOMAIN = [10 ** 3.69, 10 ** 12.26]

PW, PH = 92, 100
FONT = "DejaVu Sans"
COLOR_SCALE = alt.Scale(domain=list(TRACE_COLORS), range=list(TRACE_COLORS.values()))
X_SCALE = alt.Scale(domain=X_DOMAIN, nice=False, zero=False)


def make_panel(idx, spec):
    title, best, traces, bounds, ticks, fmt = spec
    bottom = idx >= 35 or idx in (33, 34)
    trows = []
    for name, pts in traces.items():
        for i, (x, y) in enumerate(pts):
            trows.append({"x": x, "y": y, "t": name, "i": i})
    tdf = pd.DataFrame(trows)
    bdf = pd.DataFrame([{"x": x, "y": y, "i": i, "s": "Best fit"} for i, (x, y) in enumerate(best)])

    if bottom:
        xaxis = alt.Axis(values=X_TICKS, format="d", title="Iteration", grid=True)
    else:
        xaxis = alt.Axis(values=X_TICKS, labels=False, title=None, grid=True)

    if fmt == "log":
        yscale = alt.Scale(type="log", domain=COST_DOMAIN, nice=False)
        yaxis = alt.Axis(values=ticks, title=title, grid=True,
                         labelExpr="datum.value >= 1e12 ? '10¹²' : (datum.value >= 1e9 ? '10⁹' : '10⁶')")
    else:
        lo, hi = bounds
        m = 0.05 * (hi - lo)
        yscale = alt.Scale(domain=[lo - m, hi + m], nice=False, zero=False)
        yaxis = alt.Axis(values=ticks, title=title, format=fmt, grid=True)

    xenc = alt.X("x:Q", scale=X_SCALE, axis=xaxis)
    yenc = alt.Y("y:Q", scale=yscale, axis=yaxis)

    layers = [
        alt.Chart(tdf).mark_line(strokeWidth=1.3, opacity=0.5, clip=True).encode(
            x=xenc, y=yenc,
            color=alt.Color("t:N", scale=COLOR_SCALE, legend=None),
            detail="t:N", order="i:Q")
    ]
    if bounds is not None:
        rdf = pd.DataFrame({"y": bounds})
        layers.append(alt.Chart(rdf).mark_rule(color="#707070", strokeWidth=2,
                                               strokeDash=[7.5, 3.3]).encode(y=yenc))
    if idx == 0:
        stroke = alt.Stroke("s:N", scale=alt.Scale(domain=["Best fit"], range=["blue"]),
                            legend=alt.Legend(title=None, orient="top-right", offset=7, padding=4.5,
                                              fillColor="rgba(255,255,255,0.85)", strokeColor="#cccccc",
                                              cornerRadius=3, labelFont=FONT, labelFontSize=13.9,
                                              labelColor="black", symbolType="stroke", symbolSize=784,
                                              symbolStrokeWidth=2.8, labelOffset=10, clipHeight=16))
    else:
        stroke = alt.value("blue")
    layers.append(alt.Chart(bdf).mark_line(strokeWidth=2.8, clip=True).encode(
        x=xenc, y=yenc, stroke=stroke, order="i:Q"))
    return alt.layer(*layers).properties(width=PW, height=PH)


def spacer():
    return alt.Chart(pd.DataFrame({"x": [0]})).mark_point(opacity=0).encode(
        x=alt.X("x:Q", axis=None), y=alt.Y("x:Q", axis=None)
    ).properties(width=PW, height=29, view=alt.ViewBackground(strokeOpacity=0))


panels = [make_panel(i, s) for i, s in enumerate(PANELS)]

columns = []
for c in range(7):
    items = []
    for r in range(6):
        i = r * 7 + c
        if i >= len(panels):
            break
        if r == 5:
            items.append(spacer())
        items.append(panels[i])
    col = alt.vconcat(*items, spacing=15, bounds="flush").resolve_scale(
        x="independent", y="independent", stroke="independent").resolve_legend(stroke="independent")
    columns.append(col)

chart = alt.hconcat(*columns, spacing=4, bounds="full").resolve_scale(
    x="independent", y="independent", stroke="independent"
).resolve_legend(stroke="independent").properties(
    title=alt.TitleParams(TITLE, fontSize=16.7, font=FONT, fontWeight="normal",
                          anchor="middle", color="black", offset=-6),
    padding={"left": 5, "top": 11, "right": 5, "bottom": 5},
).configure_axis(
    labelFont=FONT, labelFontSize=13.9, labelColor="black",
    titleFont=FONT, titleFontSize=13.9, titleFontWeight="normal", titleColor="black",
    titleLineHeight=16.7, tickSize=4.9, tickWidth=0.8, tickColor="black",
    labelPadding=4.9, titlePadding=5.6, domain=False,
    gridColor="#b0b0b0", gridOpacity=0.55, gridWidth=0.8,
    labelFlush=False, labelOverlap=False,
).configure_view(stroke="black", strokeWidth=1)

chart.save("out.html", embed_options={"renderer": "svg", "actions": False})
